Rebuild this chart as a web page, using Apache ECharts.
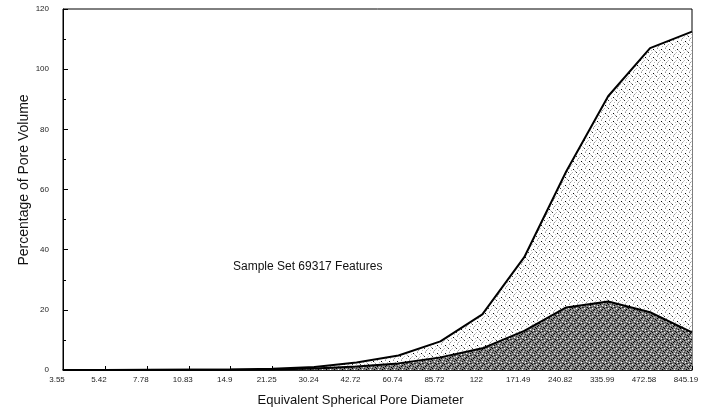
<!DOCTYPE html>
<html>
<head>
<meta charset="utf-8">
<script src="https://cdn.jsdelivr.net/npm/echarts@6/dist/echarts.min.js"></script>
<style>html,body{margin:0;padding:0;background:#fff;}#c{width:716px;height:415px;}</style>
</head>
<body>
<div id="c"></div>
<script>
var categories = ['3.55','5.42','7.78','10.83','14.9','21.25','30.24','42.72','60.74','85.72','122','171.49','240.82','335.99','472.58','845.19'];
var totalVolume = [0, 0, 0.1, 0.1, 0.2, 0.4, 1, 2.5, 4.8, 9.5, 18.5, 37.5, 66, 91, 107, 112.5];
var featureVolume = [0, 0, 0, 0.05, 0.1, 0.2, 0.5, 1.2, 2.2, 4.2, 7.2, 13, 20.8, 22.8, 19.2, 12.5];
var yTicks = [0, 20, 40, 60, 80, 100, 120];

function makePattern(bg, dots) {
  var c = document.createElement('canvas');
  c.width = 8; c.height = 8;
  var g = c.getContext('2d');
  g.fillStyle = bg; g.fillRect(0, 0, 8, 8);
  dots.forEach(function (d) { g.fillStyle = d[2]; g.fillRect(d[0], d[1], 1, 1); });
  return c;
}
var lightPat = makePattern('#ffffff', [
  [1,0,'#999'],[5,1,'#000'],[3,2,'#bbb'],[7,3,'#999'],[0,4,'#333'],[4,4,'#bbb'],[2,6,'#999'],[6,6,'#bbb'],[1,7,'#ccc'],[6,2,'#ccc'],[3,5,'#ccc']
]);
var darkPat = makePattern('#808080', [
  [0,0,'#000'],[2,1,'#fff'],[4,0,'#333'],[6,1,'#000'],[1,2,'#444'],[3,3,'#000'],[5,2,'#fff'],[7,3,'#333'],
  [0,4,'#fff'],[2,5,'#000'],[4,4,'#000'],[6,5,'#ccc'],[1,6,'#000'],[3,7,'#ddd'],[5,6,'#222'],[7,7,'#000'],[2,3,'#555'],[6,3,'#222']
]);

var FONT = 'Liberation Sans, Arial, sans-serif';
var chart = echarts.init(document.getElementById('c'), null, {renderer: 'canvas'});
chart.setOption({
  animation: false,
  backgroundColor: '#fff',
  textStyle: {fontFamily: FONT},
  grid: {left: 63, right: 24, top: 9, bottom: 45, show: true, borderColor: '#000', borderWidth: 1},
  xAxis: {
    type: 'category', data: categories, boundaryGap: false,
    name: 'Equivalent Spherical Pore Diameter', nameLocation: 'middle', nameGap: 24,
    nameTextStyle: {fontSize: 13, color: '#111', padding: [0, 34, 0, 0]},
    axisLine: {lineStyle: {color: '#000', width: 1.5}},
    axisTick: {show: true, inside: true, length: 4, lineStyle: {color: '#000'}},
    axisLabel: {fontSize: 8, color: '#222', margin: 6, interval: 0, padding: [0, 12, 0, 0]},
    splitLine: {show: false}
  },
  yAxis: {
    type: 'value', min: 0, max: 120, interval: 20,
    axisLine: {show: true, lineStyle: {color: '#000', width: 1}},
    axisTick: {show: true, inside: true, length: 5, lineStyle: {color: '#000'}},
    minorTick: {show: true, splitNumber: 2, length: 3, lineStyle: {color: '#000'}},
    axisLabel: {fontSize: 8, color: '#222', margin: 14,
      formatter: function (v) { return yTicks.indexOf(v) >= 0 ? String(v) : ''; }},
    splitLine: {show: false}
  },
  series: [
    {
      name: 'Total', type: 'line', data: totalVolume, symbol: 'none', smooth: false,
      lineStyle: {color: '#000', width: 2},
      areaStyle: {color: {image: lightPat, repeat: 'repeat'}, opacity: 1},
      z: 2
    },
    {
      name: 'Features', type: 'line', data: featureVolume, symbol: 'none', smooth: false,
      lineStyle: {color: '#000', width: 2},
      areaStyle: {color: {image: darkPat, repeat: 'repeat'}, opacity: 1},
      z: 3
    }
  ],
  graphic: [
    {
      type: 'text', left: 233, top: 261,
      style: {text: 'Sample Set 69317 Features', fontSize: 12, fill: '#111', fontFamily: FONT}
    },
    {
      type: 'text', x: 24, y: 180, rotation: Math.PI / 2,
      style: {text: 'Percentage of Pore Volume', fontSize: 14, fill: '#111', fontFamily: FONT,
        align: 'center', verticalAlign: 'middle'}
    }
  ]
});
</script>
</body>
</html>
